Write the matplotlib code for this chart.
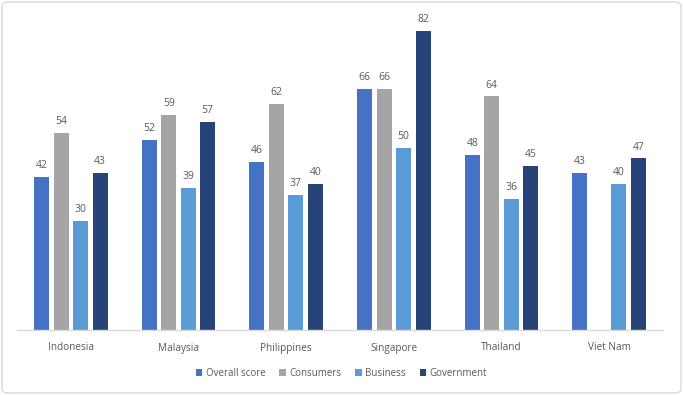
import matplotlib
matplotlib.use("Agg")
import matplotlib.pyplot as plt
import numpy as np
from matplotlib.patches import FancyBboxPatch

countries = ["Indonesia", "Malaysia", "Philippines", "Singapore", "Thailand", "Viet Nam"]
overall = [42, 52, 46, 66, 48, 43]
consumers = [54, 59, 62, 66, 64, None]
business = [30, 39, 37, 50, 36, 40]
government = [43, 57, 40, 82, 45, 47]

series = [("Overall score", overall, "#4472C4"),
          ("Consumers", consumers, "#A5A5A5"),
          ("Business", business, "#5B9BD5"),
          ("Government", government, "#264478")]

plt.rcParams['font.family'] = ['Open Sans', 'DejaVu Sans']
fig = plt.figure(figsize=(6.83, 3.95), dpi=100)
ax = fig.add_axes([17/683, 1-330/395, 646/683, 88*3.65/395])

x = np.arange(len(countries))
pitch = 0.181
width = 0.14
for i, (name, vals, col) in enumerate(series):
    off = (i - 1.5) * pitch
    xs = [xi + off for xi, v in zip(x, vals) if v is not None]
    vs = [v for v in vals if v is not None]
    bars = ax.bar(xs, vs, width=width, color=col, label=name, zorder=2)
    for xx, v in zip(xs, vs):
        ax.text(xx, v + 1.6, str(v), ha="center", va="bottom", fontsize=7.5, color="#595959")

ax.set_xlim(-0.5, len(countries) - 0.5)
ax.set_ylim(0, 88)
ax.set_xticks(x)
ax.set_xticklabels(countries, fontsize=7.2, color="#595959")
ax.tick_params(axis="x", length=0, pad=9)
ax.set_yticks([])
for s in ["top", "right", "left"]:
    ax.spines[s].set_visible(False)
ax.spines["bottom"].set_color("#D9D9D9")
ax.spines["bottom"].set_linewidth(1)

leg = fig.legend(loc="center", bbox_to_anchor=(0.5, 1-373/395), ncol=4, frameon=False,
                 fontsize=7, handlelength=0.7, handleheight=0.7, handletextpad=0.35,
                 columnspacing=1.4)
for t in leg.get_texts():
    t.set_color("#595959")

border = FancyBboxPatch((2/683, 2/395), 679/683, 391/395, boxstyle="round,pad=0,rounding_size=0.01",
                        transform=fig.transFigure, fill=False, edgecolor="#D9D9D9", linewidth=1)
fig.patches.append(border)

fig.savefig("out.png", dpi=100)
